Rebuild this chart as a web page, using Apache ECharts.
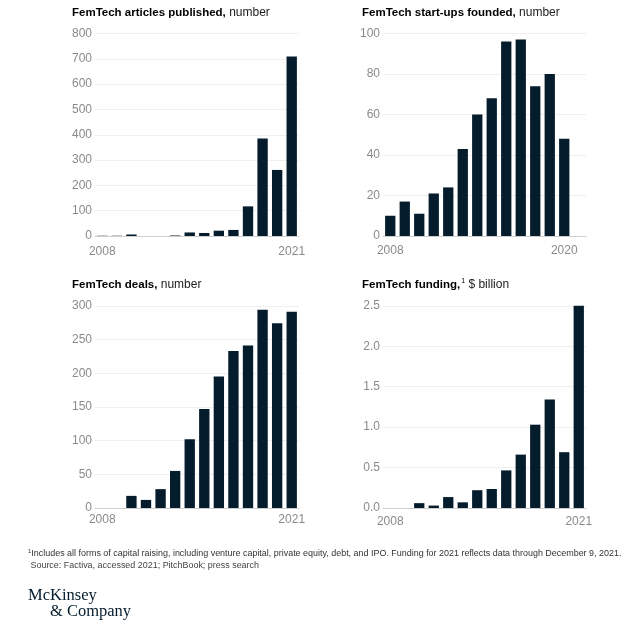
<!DOCTYPE html>
<html>
<head>
<meta charset="utf-8">
<script src="https://cdn.jsdelivr.net/npm/echarts@6/dist/echarts.min.js"></script>
<style>
html,body{margin:0;padding:0;background:#fff;}
#c{width:643px;height:628px;}
</style>
</head>
<body>
<div id="c"></div>
<script>
// ---- data ----
var years = ['2008','2009','2010','2011','2012','2013','2014','2015','2016','2017','2018','2019','2020','2021'];
var articles = [1, 1, 6, 0, 0, 2, 14, 12, 21, 24, 117, 385, 261, 709];
var startups = [10, 17, 11, 21, 24, 43, 60, 68, 96, 97, 74, 80, 48, null];
var deals = [null, null, 18, 12, 28, 55, 102, 147, 195, 233, 241, 294, 274, 291];
var funding = [null, null, 0.06, 0.03, 0.135, 0.07, 0.22, 0.235, 0.465, 0.66, 1.03, 1.34, 0.69, 2.5];

var titles = [
  {bold: 'FemTech articles published,', sup: '', rest: ' number'},
  {bold: 'FemTech start-ups founded,', sup: '', rest: ' number'},
  {bold: 'FemTech deals,', sup: '', rest: ' number'},
  {bold: 'FemTech funding,', sup: '1', rest: ' $ billion'}
];
var yMax = [800, 100, 300, 2.5];
var yInterval = [100, 20, 50, 0.5];
var lastLabelIdx = [13, 12, 13, 13];
var footnote1 = 'Includes all forms of capital raising, including venture capital, private equity, debt, and IPO. Funding for 2021 reflects data through December 9, 2021.';
var footnote2 = ' Source: Factiva, accessed 2021; PitchBook; press search';

// ---- layout ----
var BAR = '#051c2c';
var FONT = '"Liberation Sans", Arial, sans-serif';
var grids = [
  {left: 95, top: 33.5, width: 204, height: 202.5},
  {left: 383, top: 33.5, width: 203, height: 202.5},
  {left: 95, top: 305.8, width: 204, height: 202.2},
  {left: 383, top: 305.8, width: 203, height: 202.2}
];
var titlePos = [[72, 6], [362, 6], [72, 278], [362, 278]];
var labelMargin = [10, 9, 6, 8];
var seriesData = [articles, startups, deals, funding];

var option = {
  backgroundColor: '#ffffff',
  animation: false,
  title: titles.map(function (t, i) {
    var txt = '{b|' + t.bold + '}' + (t.sup ? '{s|' + t.sup + '}' : '') + '{n|' + t.rest + '}';
    return {
      text: txt, left: titlePos[i][0], top: titlePos[i][1], padding: 0,
      textStyle: {
        fontWeight: 'normal',
        rich: {
          b: {fontFamily: FONT, fontSize: 11.5, fontWeight: 'bold', color: '#000', lineHeight: 14},
          s: {fontFamily: FONT, fontSize: 7, fontWeight: 'normal', color: '#000', verticalAlign: 'top', lineHeight: 14, padding: [0, 0, 6, 1]},
          n: {fontFamily: FONT, fontSize: 12, fontWeight: 'normal', color: '#222', lineHeight: 14}
        }
      }
    };
  }),
  grid: grids,
  xAxis: grids.map(function (g, i) {
    return {
      type: 'category', gridIndex: i, data: years,
      axisLine: {show: true, lineStyle: {color: '#cfcfcf', width: 1}},
      axisTick: {show: false},
      axisLabel: {
        fontFamily: FONT, fontSize: 12, color: '#8a8a8a', margin: labelMargin[i],
        interval: (function (last) { return function (idx) { return idx === 0 || idx === last; }; })(lastLabelIdx[i])
      }
    };
  }),
  yAxis: grids.map(function (g, i) {
    return {
      type: 'value', gridIndex: i, min: 0, max: yMax[i], interval: yInterval[i],
      axisLine: {show: false}, axisTick: {show: false},
      splitLine: {show: true, lineStyle: {color: '#efefef', width: 1}},
      axisLabel: {
        fontFamily: FONT, fontSize: 12, color: '#8a8a8a', margin: 3,
        formatter: i === 3 ? function (v) { return v.toFixed(1); } : null
      }
    };
  }),
  series: seriesData.map(function (d, i) {
    return {
      type: 'bar', xAxisIndex: i, yAxisIndex: i, data: d,
      barCategoryGap: '29%', itemStyle: {color: BAR}, silent: true
    };
  }),
  graphic: [
    {type: 'text', left: 28, top: 548, style: {
      text: '{s|1}{t|' + footnote1 + '}',
      rich: {
        s: {fontFamily: FONT, fontSize: 6, fill: '#333', verticalAlign: 'top', lineHeight: 11, padding: [0, 0, 4, 0]},
        t: {fontFamily: FONT, fontSize: 8.95, fill: '#333', lineHeight: 11}
      }
    }},
    {type: 'text', left: 28, top: 561, style: {
      text: footnote2, font: '8.95px ' + FONT, fill: '#444'
    }},
    {type: 'text', left: 28, top: 587, style: {
      text: 'McKinsey', font: '16.5px "Liberation Serif", "Times New Roman", serif', fill: '#051c2c'
    }},
    {type: 'text', left: 50, top: 603, style: {
      text: '& Company', font: '16.5px "Liberation Serif", "Times New Roman", serif', fill: '#051c2c'
    }}
  ]
};

var chart = echarts.init(document.getElementById('c'), null, {renderer: 'canvas'});
chart.setOption(option);
</script>
</body>
</html>
